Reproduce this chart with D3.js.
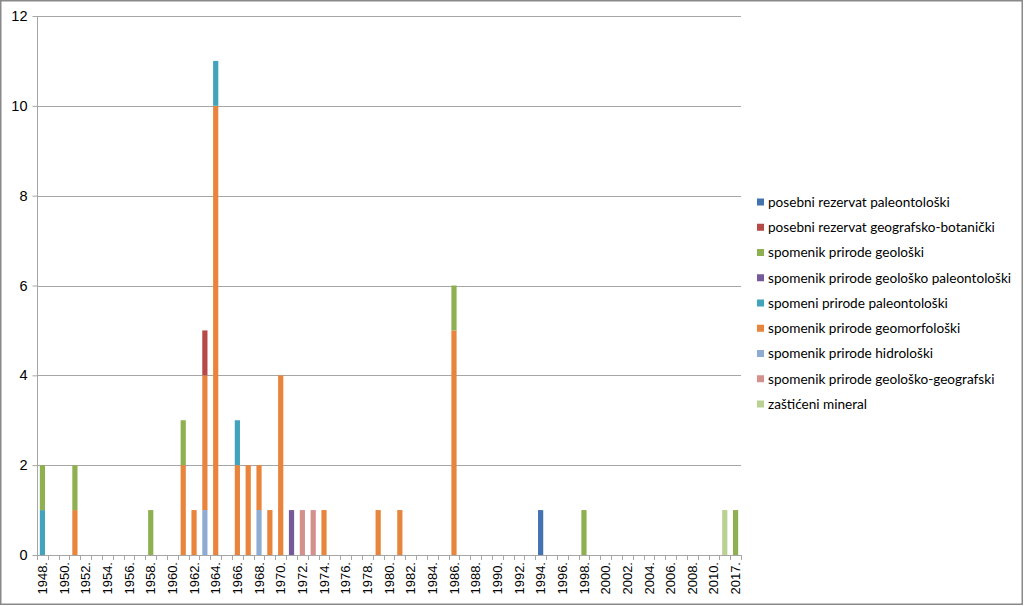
<!DOCTYPE html>
<html>
<head>
<meta charset="utf-8">
<script src="https://cdn.jsdelivr.net/npm/d3@7"></script>
<style>
  html, body { margin: 0; padding: 0; background: #fff; }
  svg { display: block; font-family: Lato, "Open Sans", sans-serif; }
</style>
</head>
<body>
<svg id="chart" width="1024" height="606"></svg>
<script>
// Categories (years); only every other label is displayed, as in the reference
const years = [];
for (let y = 1948; y <= 2011; y++) years.push(y + ".");
years.push("2017.");

// Series, listed bottom of stack first
const seriesNames = [
  "zaštićeni mineral",
  "spomenik prirode geološko-geografski",
  "spomenik prirode hidrološki",
  "spomenik prirode geomorfološki",
  "spomeni prirode paleontološki",
  "spomenik prirode geološko paleontološki",
  "spomenik prirode geološki",
  "posebni rezervat geografsko-botanički",
  "posebni rezervat paleontološki"
];
const seriesColors = [
  "#BBD192", "#D4908D", "#8EABD3", "#E8843C", "#42A3BD",
  "#76599A", "#8FB050", "#B64A47", "#4373AF"
];

// Non-zero values: [year, count] per series
const zasticeniMineral = [["2011.", 1]];
const geoloskoGeografski = [["1972.", 1], ["1973.", 1]];
const hidroloski = [["1963.", 1], ["1968.", 1]];
const geomorfoloski = [["1951.", 1], ["1961.", 2], ["1962.", 1], ["1963.", 3], ["1964.", 10],
  ["1966.", 2], ["1967.", 2], ["1968.", 1], ["1969.", 1], ["1970.", 4], ["1974.", 1],
  ["1979.", 1], ["1981.", 1], ["1986.", 5]];
const paleontoloski = [["1948.", 1], ["1964.", 1], ["1966.", 1]];
const geoloskoPaleontoloski = [["1971.", 1]];
const geoloski = [["1948.", 1], ["1951.", 1], ["1958.", 1], ["1961.", 1], ["1986.", 1],
  ["1998.", 1], ["2017.", 1]];
const geografskoBotanicki = [["1963.", 1]];
const posebniPaleontoloski = [["1994.", 1]];

const seriesValues = [zasticeniMineral, geoloskoGeografski, hidroloski, geomorfoloski,
  paleontoloski, geoloskoPaleontoloski, geoloski, geografskoBotanicki, posebniPaleontoloski];

const yTicks = [0, 2, 4, 6, 8, 10, 12];

// Build table for d3.stack
const table = years.map(yr => {
  const row = { year: yr };
  seriesNames.forEach((n, i) => {
    const f = seriesValues[i].find(d => d[0] === yr);
    row[n] = f ? f[1] : 0;
  });
  return row;
});

const svg = d3.select("#chart");
const W = 1024, H = 606;
const m = { left: 37, right: 283, top: 16, bottom: 51 };
const plotW = W - m.left - m.right;
const plotH = H - m.top - m.bottom;

// outer frame
svg.append("rect").attr("x", 0.75).attr("y", 0.75).attr("width", W - 2.5).attr("height", H - 2.5)
  .attr("fill", "#fff").attr("stroke", "#898989").attr("stroke-width", 1.5);

const g = svg.append("g").attr("transform", `translate(${m.left},${m.top})`);

const x = d3.scaleBand().domain(years).range([0, plotW]).paddingInner(0.52).paddingOuter(0.26);
const y = d3.scaleLinear().domain([0, 12]).range([plotH, 0]);

// gridlines
g.append("g").selectAll("line").data(yTicks.filter(t => t > 0)).join("line")
  .attr("x1", 0).attr("x2", plotW)
  .attr("y1", d => Math.round(y(d)) + 0.5).attr("y2", d => Math.round(y(d)) + 0.5)
  .attr("stroke", "#A6A6A6").attr("stroke-width", 1);

// bars
const stack = d3.stack().keys(seriesNames);
const layers = stack(table);
g.append("g").selectAll("g").data(layers).join("g")
  .attr("fill", (d, i) => seriesColors[i])
  .selectAll("rect").data(d => d.filter(p => p[1] > p[0])).join("rect")
  .attr("x", d => x(d.data.year))
  .attr("width", x.bandwidth())
  .attr("y", d => y(d[1]))
  .attr("height", d => y(d[0]) - y(d[1]));

// y axis
const yAxis = d3.axisLeft(y).tickValues(yTicks).tickSize(5).tickPadding(5).tickFormat(d3.format("d"));
const ya = g.append("g").attr("transform", "translate(0.5,0)").call(yAxis);
ya.select(".domain").attr("stroke", "#A6A6A6").attr("d", `M0,${plotH}V0`);
ya.selectAll(".tick line").attr("stroke", "#A6A6A6");
ya.selectAll(".tick text").attr("font-size", 14.5).attr("fill", "#000");

// x axis baseline
g.append("line").attr("x1", 0).attr("x2", plotW)
  .attr("y1", plotH + 0.5).attr("y2", plotH + 0.5).attr("stroke", "#A6A6A6");
// category boundary ticks
const boundaries = d3.range(years.length + 1).map(i => i * (plotW / years.length));
g.append("g").selectAll("line").data(boundaries).join("line")
  .attr("x1", d => Math.round(d) + 0.5).attr("x2", d => Math.round(d) + 0.5)
  .attr("y1", plotH).attr("y2", plotH + 5).attr("stroke", "#A6A6A6");

// x labels
const xAxis = d3.axisBottom(x).tickSize(0).tickPadding(0)
  .tickFormat((d, i) => (i % 2 === 0 ? d : ""));
const xa = g.append("g").attr("transform", `translate(0,${plotH})`).call(xAxis);
xa.select(".domain").remove();
xa.selectAll(".tick text")
  .attr("font-size", 13).attr("fill", "#000")
  .attr("text-anchor", "end")
  .attr("dy", "0.35em")
  .attr("transform", "translate(0,7) rotate(-90)")
  .attr("x", 0).attr("y", 0);

// legend (reverse of stacking order)
const legendItems = seriesNames.map((n, i) => ({ name: n, color: seriesColors[i] })).reverse();
const lg = svg.append("g").attr("transform", "translate(757,202)");
const li = lg.selectAll("g").data(legendItems).join("g")
  .attr("transform", (d, i) => `translate(0,${i * 25.25})`);
li.append("rect").attr("x", 0).attr("y", -3.5).attr("width", 7).attr("height", 7)
  .attr("fill", d => d.color);
li.append("text").attr("x", 11).attr("y", 0).attr("dy", "0.35em")
  .attr("font-size", 13.6).attr("fill", "#000").text(d => d.name);
</script>
</body>
</html>
